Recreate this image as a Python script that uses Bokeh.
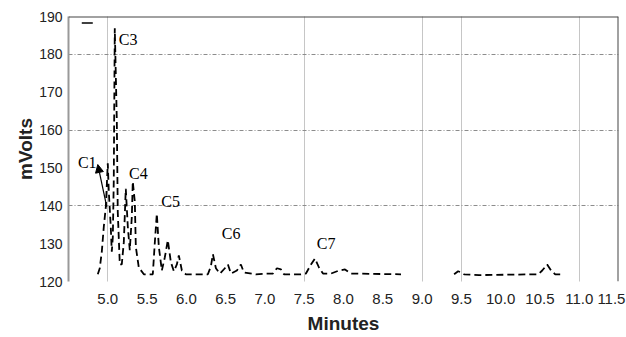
from bokeh.plotting import figure
from bokeh.models import Range1d, FixedTicker, Span, Arrow, NormalHead
from bokeh.core.properties import value
from bokeh.embed import file_html
from bokeh.resources import INLINE

# ---- data ----
# main trace (minutes, mV)
trace_a_t = [4.873, 4.898, 4.924, 4.949, 4.975, 5.000, 5.013, 5.038, 5.051, 5.064,
             5.076, 5.089, 5.115, 5.127, 5.153, 5.178, 5.204, 5.229, 5.255, 5.280,
             5.306, 5.318, 5.344, 5.357, 5.395, 5.459, 5.573, 5.599, 5.624, 5.650,
             5.688, 5.726, 5.764, 5.803, 5.841, 5.879, 5.904, 5.943, 5.994, 6.274,
             6.312, 6.338, 6.376, 6.427, 6.490, 6.529, 6.567, 6.643, 6.694, 6.732,
             6.885, 7.013, 7.102, 7.153, 7.204, 7.242, 7.459, 7.522, 7.586, 7.637,
             7.688, 7.739, 7.841, 7.943, 8.019, 8.096, 8.732]
trace_a_v = [121.9, 123.5, 127.9, 134.4, 139.7, 151.2, 143.7, 134.4, 127.9, 131.7,
             146.4, 186.9, 162.4, 138.4, 124.5, 124.5, 130.4, 144.5, 134.4, 128.3,
             137.1, 146.4, 141.1, 129.1, 123.7, 121.9, 121.9, 130.4, 137.9, 129.1,
             122.9, 126.4, 130.9, 125.1, 122.7, 124.5, 126.9, 122.9, 121.9, 121.9,
             124.0, 127.2, 123.5, 122.1, 123.5, 124.5, 122.1, 122.9, 124.5, 122.4,
             121.9, 122.1, 122.1, 123.5, 123.2, 121.9, 121.9, 122.1, 124.5, 126.1,
             123.7, 122.1, 122.1, 122.9, 123.2, 122.1, 121.9]
trace_b_t = [9.408, 9.459, 9.497, 9.535, 9.726, 10.478, 10.529, 10.592, 10.643, 10.694, 10.809]
trace_b_v = [121.9, 122.7, 122.4, 121.9, 121.7, 121.9, 122.9, 124.5, 122.9, 121.9, 121.9]
# short marker stroke at top left
mark_t = [4.669, 4.809]
mark_v = [188.3, 188.3]

# peak labels
peak_names = ["C1", "C3", "C4", "C5", "C6", "C7"]
peak_t = [4.62, 5.14, 5.27, 5.68, 6.45, 7.66]
peak_v = [149.2, 181.6, 146.4, 138.9, 130.4, 127.7]
c1_arrow = (4.987, 139.7, 4.873, 150.9)

x_ticks = [5.0, 5.5, 6.0, 6.5, 7.0, 7.5, 8.0, 8.5, 9.0, 9.5, 10.0, 10.5, 11.0, 11.5]
y_ticks = [120, 130, 140, 150, 160, 170, 180, 190]
grid_x = [5.0, 7.5, 9.0, 9.5, 11.0]
grid_y = [140, 160, 180]

# the last label sits a little inside the right frame edge, as in the original
x_label_pos = x_ticks[:-1] + [11.41]

TICK_FONT = "Liberation Sans"

p = figure(width=626, height=337, output_backend="svg", toolbar_location=None,
           x_range=Range1d(4.5, 11.5), y_range=Range1d(120, 190),
           min_border_left=68, min_border_right=8, min_border_top=16, min_border_bottom=56)
p.outline_line_color = None
p.background_fill_color = "white"

# grids
p.xgrid.ticker = FixedTicker(ticks=grid_x)
p.ygrid.ticker = FixedTicker(ticks=grid_y)
p.xgrid.grid_line_color = "#8c8c8c"
p.xgrid.grid_line_dash = "1 1"
p.xgrid.grid_line_width = 1
p.ygrid.grid_line_color = "#8c8c8c"
p.ygrid.grid_line_dash = "4 2 1 2"
p.ygrid.grid_line_width = 1

# axes
p.xaxis.ticker = FixedTicker(ticks=x_label_pos)
p.xaxis.major_label_overrides = {pos: f"{lab:.1f}" for pos, lab in zip(x_label_pos, x_ticks)}
p.yaxis.ticker = FixedTicker(ticks=y_ticks)
for ax in (p.xaxis[0], p.yaxis[0]):
    ax.major_tick_line_color = None
    ax.minor_tick_line_color = None
    ax.major_tick_out = 0
    ax.major_tick_in = 0
    ax.minor_tick_out = 0
    ax.minor_tick_in = 0
    ax.major_label_text_font = TICK_FONT
    ax.major_label_text_color = "#222222"
    ax.axis_label_text_font = "Liberation Sans"
    ax.axis_label_text_font_style = "bold"
    ax.axis_label_text_font_size = "19px"
    ax.axis_label_text_color = "#222222"
p.xaxis.major_label_text_font_size = "15px"
p.yaxis.major_label_text_font_size = "14px"
p.xaxis.axis_line_color = None
p.yaxis.axis_line_color = "#999999"
p.yaxis.axis_line_width = 2
p.xaxis.major_label_standoff = 12
p.yaxis.major_label_standoff = 6
p.xaxis.axis_label = "Minutes"
p.yaxis.axis_label = "mVolts"
p.xaxis.axis_label_standoff = 6
p.yaxis.axis_label_standoff = 0

# frame top and right edges
p.add_layout(Span(location=190, dimension="width", line_color="#444444", line_width=2))
p.add_layout(Span(location=11.5, dimension="height", line_color="#444444", line_width=2))

# trace
p.line(trace_a_t, trace_a_v, line_color="black", line_width=1.8, line_dash="7 4")
p.line(trace_b_t, trace_b_v, line_color="black", line_width=1.8, line_dash="7 4")
p.line(mark_t, mark_v, line_color="black", line_width=1.5)

# peak labels
p.text(x=peak_t, y=peak_v, text=peak_names, text_font=value("Liberation Serif"),
       text_font_size="16px", text_color="black", text_baseline="bottom", text_align="left")
p.add_layout(Arrow(end=NormalHead(size=8, fill_color="black", line_color="black"),
                   x_start=c1_arrow[0], y_start=c1_arrow[1],
                   x_end=c1_arrow[2], y_end=c1_arrow[3],
                   line_color="black", line_width=1.2))

open("out.html", "w").write(file_html(p, INLINE))
